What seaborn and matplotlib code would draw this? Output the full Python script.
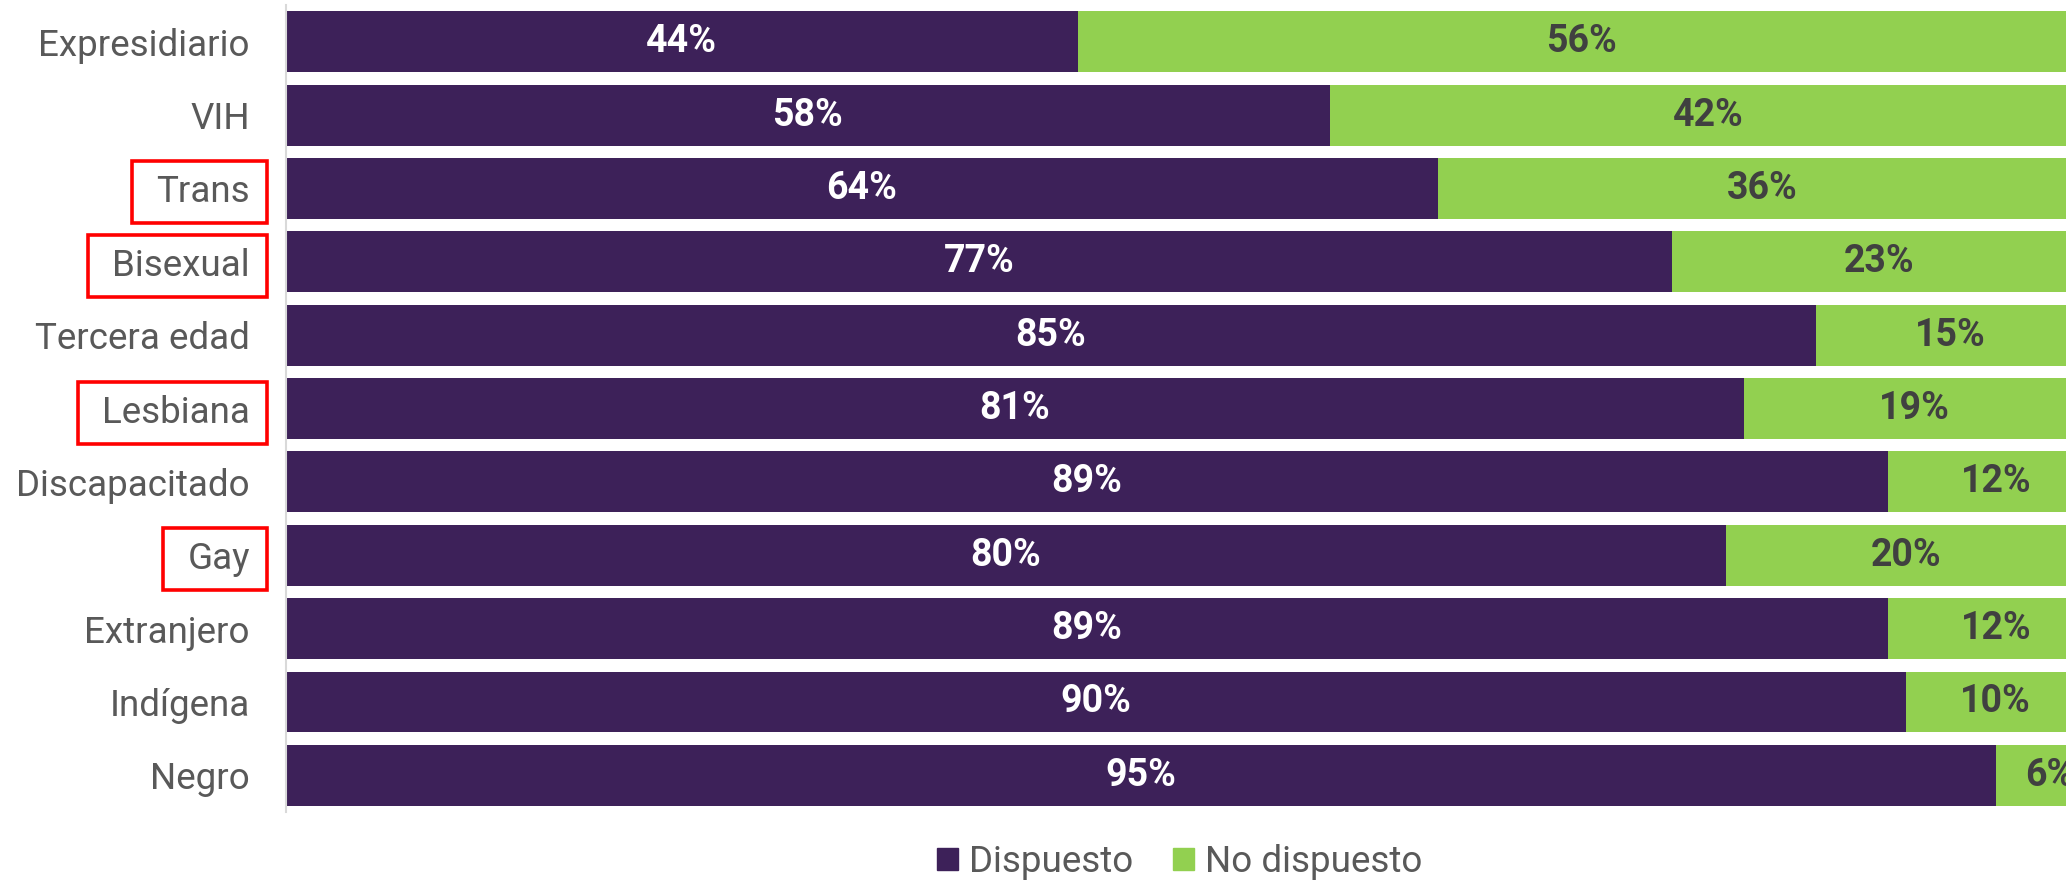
import matplotlib
matplotlib.use("Agg")
import matplotlib.pyplot as plt
from matplotlib.patches import Patch, Rectangle
import seaborn as sns
import pandas as pd

# data
groups = ["Expresidiario", "VIH", "Trans", "Bisexual", "Tercera edad", "Lesbiana",
          "Discapacitado", "Gay", "Extranjero", "Indígena", "Negro"]
dispuesto = [44, 58, 64, 77, 85, 81, 89, 80, 89, 90, 95]
no_dispuesto = [56, 42, 36, 23, 15, 19, 12, 20, 12, 10, 6]
highlighted = ["Trans", "Bisexual", "Lesbiana", "Gay"]

purple = "#3D2159"
green = "#92D050"
grey = "#595959"

sns.set_theme(style="white")
plt.rcParams["font.family"] = ["Roboto", "DejaVu Sans"]

df = pd.DataFrame({"grupo": groups, "Dispuesto": dispuesto, "No dispuesto": no_dispuesto})
df["total"] = df["Dispuesto"] + df["No dispuesto"]

fig = plt.figure(figsize=(20.66, 8.81), dpi=100)
ax = fig.add_axes([0.1384, 0.0783, 0.8616, 0.916])

# stacked bars: draw the total in green, then Dispuesto over it
sns.barplot(data=df, x="total", y="grupo", color=green, saturation=1, width=0.83,
            orient="h", linewidth=0, ax=ax)
sns.barplot(data=df, x="Dispuesto", y="grupo", color=purple, saturation=1, width=0.83,
            orient="h", linewidth=0, ax=ax)

for i, row in df.iterrows():
    ax.text(row["Dispuesto"] / 2, i, f"{row['Dispuesto']}%", ha="center", va="center",
            color="white", fontsize=27, fontweight="bold")
    ax.text(row["Dispuesto"] + row["No dispuesto"] / 2, i, f"{row['No dispuesto']}%",
            ha="center", va="center", color="#404040", fontsize=27, fontweight="bold", clip_on=False)

ax.set_xlim(0, 98.9)
ax.set_ylim(10.5, -0.5)
ax.set_xlabel("")
ax.set_ylabel("")
ax.set_xticks([])
ax.tick_params(axis="y", length=0, pad=26, labelsize=26.5, labelcolor=grey)
for s in ["top", "right", "bottom"]:
    ax.spines[s].set_visible(False)
ax.spines["left"].set_color("#D9D9D9")
ax.spines["left"].set_linewidth(1.5)

handles = [Patch(color=purple, label="Dispuesto"), Patch(color=green, label="No dispuesto")]
fig.legend(handles=handles, loc="center", bbox_to_anchor=(0.571, 0.022), ncol=2, frameon=False,
           fontsize=26.5, labelcolor=grey, handlelength=0.55, handleheight=0.55,
           handletextpad=0.3, columnspacing=1.1)

# red boxes around the highlighted group labels
fig.canvas.draw()
renderer = fig.canvas.get_renderer()
for lab in ax.get_yticklabels():
    if lab.get_text() in highlighted:
        bb = lab.get_window_extent(renderer)
        yc = (bb.y0 + bb.y1) / 2
        x0, x1 = bb.x0 - 24, bb.x1 + 17
        h = 62
        rect = Rectangle((x0, yc - h / 2), x1 - x0, h, transform=None,
                         fill=False, edgecolor="red", linewidth=2.6)
        fig.patches.append(rect)

fig.savefig("out.png", dpi=100)
